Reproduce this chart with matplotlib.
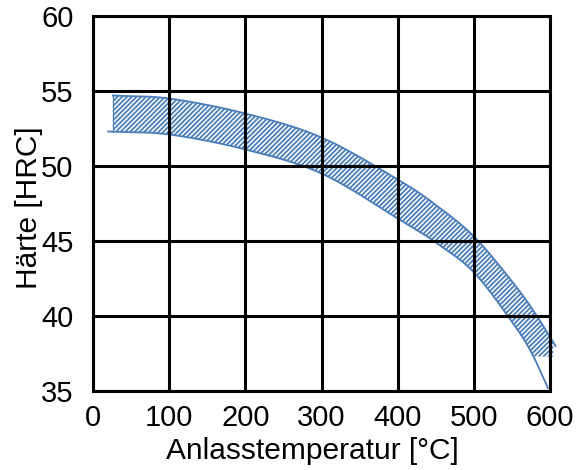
import numpy as np
import matplotlib
matplotlib.use("Agg")
import matplotlib.pyplot as plt

plt.rcParams['font.family'] = ['Liberation Sans', 'DejaVu Sans']
plt.rcParams['hatch.linewidth'] = 1.3

# upper edge of the hardness band
upper_t = [26, 100, 200, 300, 400, 450, 500, 550, 580, 607]
upper_h = [54.7, 54.5, 53.5, 51.9, 49.1, 47.4, 45.3, 42.3, 40.2, 38.0]
# lower edge of the hardness band
lower_t = [20, 100, 200, 300, 400, 450, 500, 550, 575, 597]
lower_h = [52.3, 52.1, 51.1, 49.5, 46.5, 44.9, 42.9, 39.6, 37.6, 35.2]
band_floor = 37.3

xticks = [0, 100, 200, 300, 400, 500, 600]
yticks = [35, 40, 45, 50, 55, 60]

blue = '#4a7ebb'


def catmull(xs, ys, n=30):
    """Smooth curve passing through the given points."""
    p = np.column_stack([xs, ys]).astype(float)
    p = np.vstack([2 * p[0] - p[1], p, 2 * p[-1] - p[-2]])
    out = []
    s = np.linspace(0, 1, n, endpoint=False)[:, None]
    for i in range(1, len(p) - 2):
        p0, p1, p2, p3 = p[i - 1], p[i], p[i + 1], p[i + 2]
        out.append(0.5 * (2 * p1 + (-p0 + p2) * s
                          + (2 * p0 - 5 * p1 + 4 * p2 - p3) * s ** 2
                          + (-p0 + 3 * p1 - 3 * p2 + p3) * s ** 3))
    out.append(p[-2][None, :])
    c = np.vstack(out)
    return c[:, 0], c[:, 1]


fig = plt.figure(figsize=(5.81, 4.70), dpi=100)
ax = fig.add_axes([0.160, 0.168, 0.787, 0.798])

ux, uy = catmull(upper_t, upper_h)
lx, ly = catmull(lower_t, lower_h)

t = np.linspace(upper_t[0], 604, 500)
up = np.interp(t, ux, uy)
lo = np.maximum(np.interp(t, lx, ly), band_floor)
ax.fill_between(t, lo, up, where=up > lo, facecolor='none', edgecolor=blue,
                hatch='///////', linewidth=0, clip_on=False, zorder=2)
ax.plot([t[0], t[0]], [lo[0], up[0]], color=blue, lw=0.8, zorder=2)
ax.plot(ux, uy, color=blue, lw=1.3, clip_on=False, zorder=2)
ax.plot(lx, ly, color=blue, lw=1.3, clip_on=False, zorder=2)

ax.set_xlim(0, 600)
ax.set_ylim(35, 60)
ax.set_xticks(xticks)
ax.set_yticks(yticks)
ax.set_axisbelow(False)
ax.grid(True, color='black', lw=2.2)
for s in ax.spines.values():
    s.set_linewidth(2.2)
    s.set_color('black')
ax.tick_params(axis='x', length=0, labelsize=21, pad=9)
ax.tick_params(axis='y', length=0, labelsize=21, pad=14)

ax.set_xlabel('Anlasstemperatur [°C]', fontsize=21.5)
ax.set_ylabel('Härte [HRC]', fontsize=21.5)
ax.xaxis.set_label_coords(0.48, -0.122)
ax.yaxis.set_label_coords(-0.11, 0.49)

fig.savefig('out.png', dpi=100)
